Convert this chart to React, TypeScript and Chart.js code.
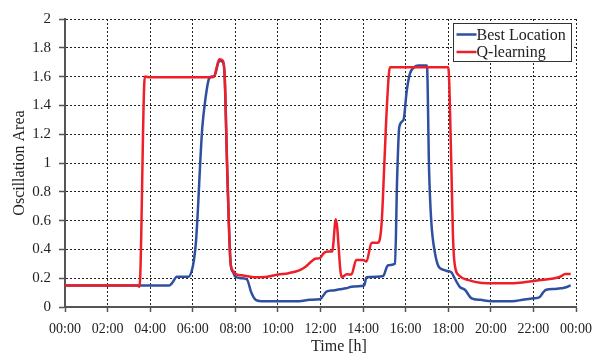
import React, { useEffect, useRef } from "react";
import { Chart, registerables } from "chart.js";

Chart.register(...registerables);

const seriesNames = ["Best Location", "Q-learning"];

const tickLabels = [
  "00:00", "02:00", "04:00", "06:00", "08:00", "10:00", "12:00",
  "14:00", "16:00", "18:00", "20:00", "22:00", "00:00",
];
const yTickLabels = ["0", "0.2", "0.4", "0.6", "0.8", "1", "1.2", "1.4", "1.6", "1.8", "2"];

const bestTime = [
  0, 4.9, 5.05, 5.25, 5.5, 5.8, 5.95, 6.05, 6.15, 6.25, 6.35, 6.45, 6.6, 6.75, 6.9,
  7.0, 7.25, 7.42, 7.5, 7.62, 7.78, 7.9, 8.0, 8.3, 8.55, 8.75, 8.95, 9.2, 10.5, 11.0,
  11.5, 11.97, 12.28, 12.6, 12.9, 13.2, 13.45, 13.9, 14.05, 14.16, 14.63, 14.94, 15.17,
  15.5, 15.6, 15.7, 15.9, 16.05, 16.2, 16.4, 16.6, 17.0, 17.1, 17.2, 17.37, 17.55,
  17.75, 17.95, 18.15, 18.3, 18.54, 18.78, 19.1, 19.5, 20.0, 21.0, 21.5, 22.0, 22.3,
  22.45, 22.6, 23.0, 23.3, 23.5, 23.75,
];
const bestValues = [
  0.15, 0.15, 0.17, 0.21, 0.21, 0.21, 0.25, 0.32, 0.45, 0.7, 1.0, 1.25, 1.45, 1.58, 1.6,
  1.6, 1.71, 1.7, 1.6, 0.95, 0.3, 0.24, 0.21, 0.2, 0.19, 0.1, 0.05, 0.04, 0.04, 0.04,
  0.05, 0.054, 0.107, 0.115, 0.123, 0.13, 0.14, 0.145, 0.15, 0.206, 0.21, 0.215, 0.29,
  0.3, 0.9, 1.25, 1.3, 1.5, 1.62, 1.665, 1.677, 1.677, 0.95, 0.6, 0.38, 0.28,
  0.26, 0.25, 0.24, 0.2, 0.14, 0.12, 0.06, 0.05, 0.04, 0.04, 0.05, 0.06, 0.07,
  0.1, 0.12, 0.125, 0.13, 0.135, 0.15,
];

const qTime = [
  0, 3.4, 3.5, 3.75, 4.0, 6.9, 7.0, 7.25, 7.42, 7.5, 7.62, 7.78, 7.9, 8.0, 8.3, 9.0,
  9.5, 10.0, 10.5, 11.0, 11.3, 11.6, 11.75, 11.97, 12.16, 12.35, 12.55, 12.72, 12.99,
  13.24, 13.45, 13.68, 14.0, 14.16, 14.4, 14.7, 14.87, 15.0, 15.12, 15.26, 18.0, 18.15,
  18.22, 18.3, 18.54, 19.0, 19.5, 20.0, 21.0, 21.5, 22.0, 22.5, 23.0, 23.25, 23.5, 23.75,
];
const qValues = [
  0.15, 0.15, 0.14, 1.6, 1.595, 1.595, 1.6, 1.72, 1.71, 1.6, 0.95, 0.3, 0.25, 0.23, 0.22, 0.207,
  0.21, 0.225, 0.235, 0.255, 0.28, 0.32, 0.335, 0.34, 0.375, 0.385, 0.385, 0.61, 0.207,
  0.227, 0.225, 0.327, 0.327, 0.316, 0.447, 0.447, 0.58, 1.0, 1.4, 1.665, 1.665, 0.95,
  0.5, 0.3, 0.215, 0.185, 0.168, 0.165, 0.165, 0.17, 0.18, 0.19, 0.2, 0.21, 0.23, 0.23,
];

const BLUE = "#2f4fa2";
const RED = "#ee1f28";
const SERIF = "'Liberation Serif', 'Times New Roman', serif";

const overlayPlugin = {
  id: "overlay",
  afterDraw(chart: any) {
    const { ctx, chartArea } = chart;
    ctx.save();
    // x axis title
    ctx.fillStyle = "#222";
    ctx.font = `16px ${SERIF}`;
    ctx.textAlign = "center";
    ctx.textBaseline = "middle";
    ctx.fillText("Time [h]", 339, 347);

    // legend box
    const w = 118;
    const h = 38;
    const x0 = Math.round(chartArea.right - 5 - w) + 0.5;
    const y0 = Math.round(chartArea.top + 4) + 0.5;
    ctx.fillStyle = "#fff";
    ctx.fillRect(x0, y0, w, h);
    ctx.strokeStyle = "#333";
    ctx.lineWidth = 1;
    ctx.strokeRect(x0, y0, w, h);
    const colors = [BLUE, RED];
    const rows = [y0 + 11, y0 + 28.5];
    ctx.textAlign = "left";
    ctx.font = `16px ${SERIF}`;
    for (let i = 0; i < seriesNames.length; i++) {
      ctx.strokeStyle = colors[i];
      ctx.lineWidth = 2.5;
      ctx.beginPath();
      ctx.moveTo(x0 + 3, rows[i]);
      ctx.lineTo(x0 + 23, rows[i]);
      ctx.stroke();
      ctx.fillStyle = "#222";
      ctx.fillText(seriesNames[i], x0 + 23, rows[i] + 1);
    }
    ctx.restore();
  },
};

export default function App() {
  const ref = useRef<HTMLCanvasElement | null>(null);

  useEffect(() => {
    document.body.style.margin = "0";
    if (!ref.current) return;
    const chart = new Chart(ref.current, {
      type: "line",
      data: {
        datasets: [
          {
            label: seriesNames[0],
            data: bestTime.map((t, i) => ({ x: t, y: bestValues[i] })),
            borderColor: BLUE,
            backgroundColor: BLUE,
            borderWidth: 2.5,
            pointRadius: 0,
            cubicInterpolationMode: "monotone",
            order: 1,
          },
          {
            label: seriesNames[1],
            data: qTime.map((t, i) => ({ x: t, y: qValues[i] })),
            borderColor: RED,
            backgroundColor: RED,
            borderWidth: 2.5,
            pointRadius: 0,
            cubicInterpolationMode: "monotone",
            order: 0,
          },
        ],
      },
      options: {
        animation: false,
        responsive: true,
        maintainAspectRatio: false,
        layout: { padding: { left: 0, right: 29, top: 19, bottom: 0 } },
        plugins: {
          legend: { display: false },
          tooltip: { enabled: false },
        },
        scales: {
          x: {
            type: "linear",
            min: 0,
            max: 24,
            ticks: {
              stepSize: 2,
              autoSkip: false,
              maxRotation: 0,
              padding: 9,
              color: "#222",
              font: { family: SERIF, size: 14 },
              callback: (v: any) => tickLabels[Math.round(Number(v) / 2)],
            },
            grid: {
              color: "#222",
              lineWidth: 1,
              tickLength: 5,
              tickColor: "#555",
              tickWidth: 1.5,
            },
            border: { color: "#555", width: 2, dash: [2, 2] },
            afterFit: (scale: any) => {
              scale.height = 47;
            },
          },
          y: {
            type: "linear",
            min: 0,
            max: 2,
            ticks: {
              stepSize: 0.2,
              padding: 8,
              color: "#222",
              font: { family: SERIF, size: 15 },
              callback: (_v: any, i: number) => yTickLabels[i],
            },
            grid: {
              color: "#222",
              lineWidth: 1,
              tickLength: 6,
              tickColor: "#555",
              tickWidth: 1.5,
            },
            border: { color: "#555", width: 2, dash: [2, 2] },
            title: {
              display: true,
              text: "Oscillation Area",
              color: "#222",
              font: { family: SERIF, size: 16 },
              padding: { top: 10, bottom: 10 },
            },
            afterFit: (scale: any) => {
              scale.width = 65;
            },
          },
        },
      },
      plugins: [overlayPlugin],
    });
    return () => chart.destroy();
  }, []);

  return (
    <div style={{ position: "relative", width: 605, height: 354 }}>
      <canvas ref={ref} />
    </div>
  );
}
